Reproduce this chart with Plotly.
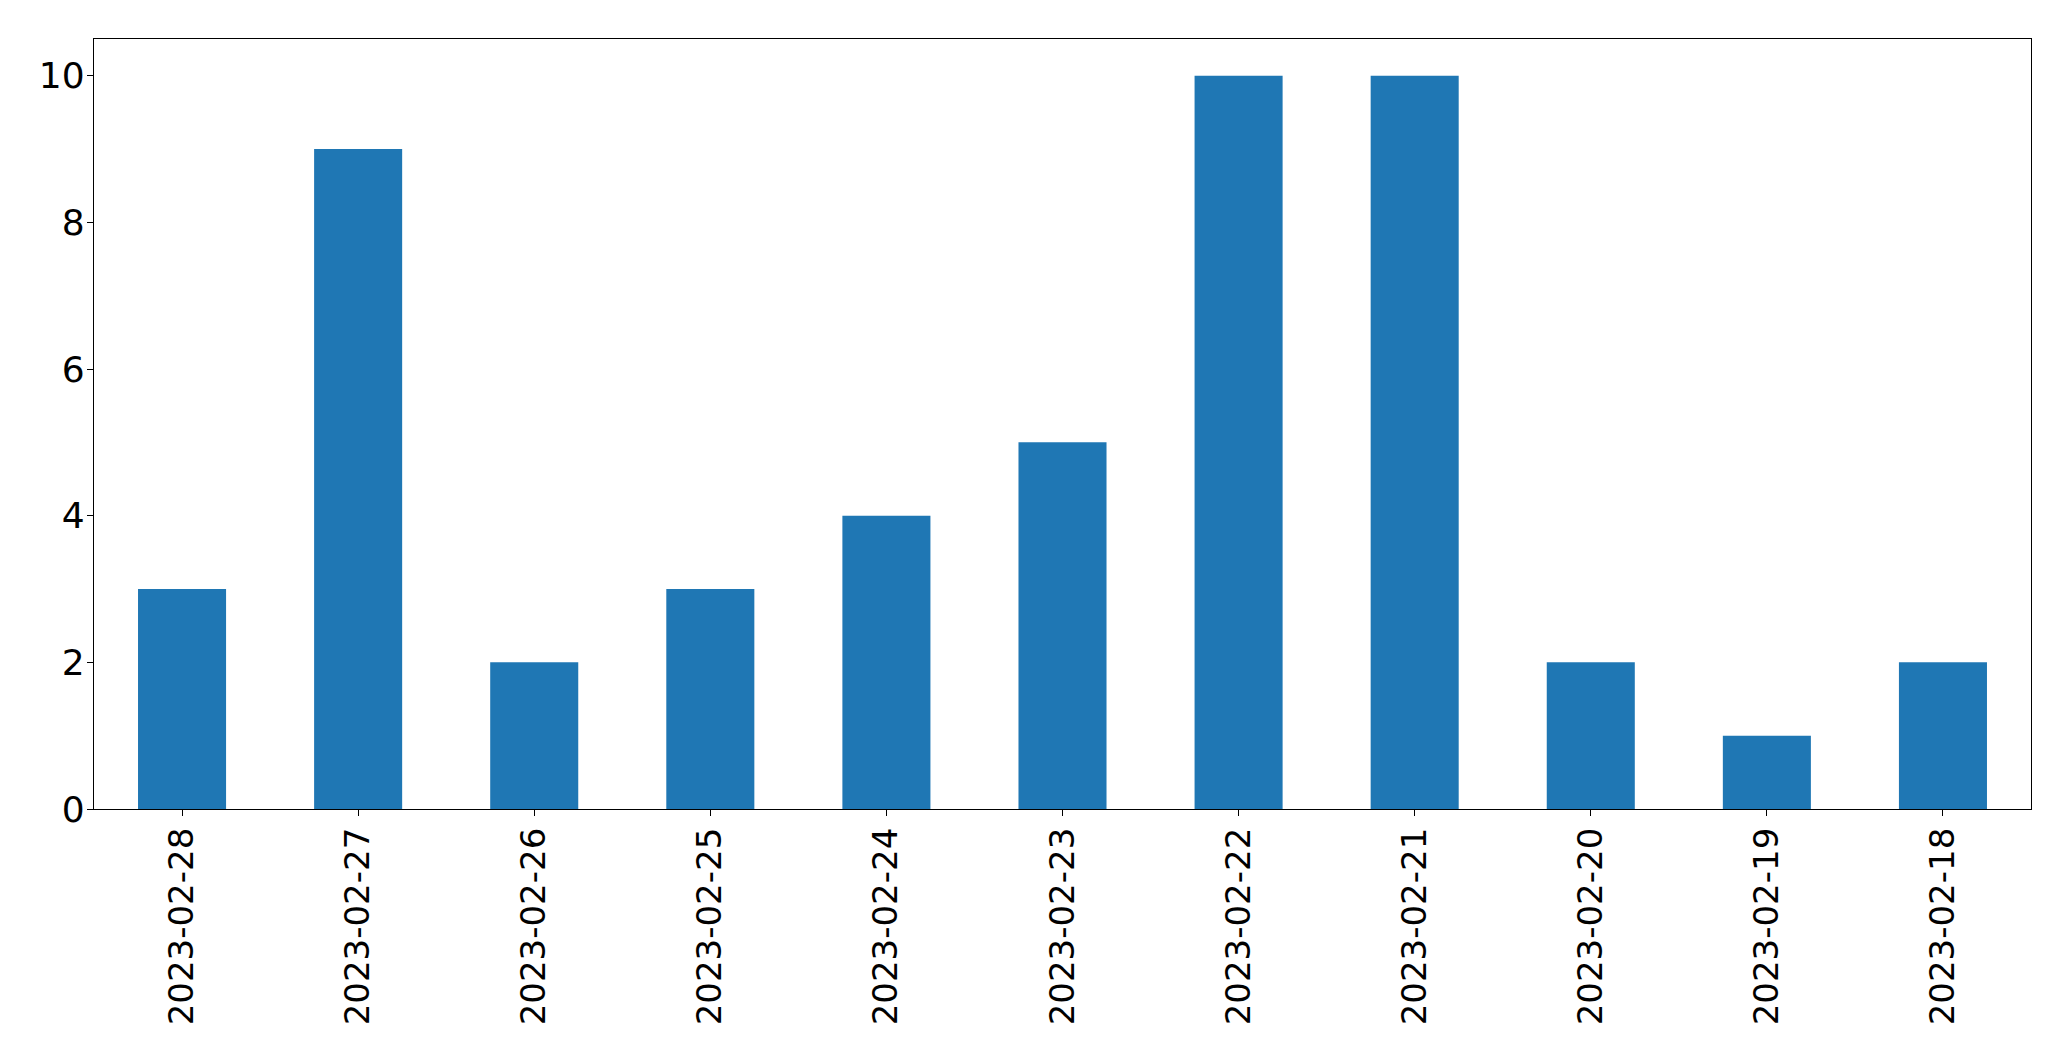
import plotly.graph_objects as go

dates = ["2023-02-28", "2023-02-27", "2023-02-26", "2023-02-25", "2023-02-24",
         "2023-02-23", "2023-02-22", "2023-02-21", "2023-02-20", "2023-02-19", "2023-02-18"]
counts = [3, 9, 2, 3, 4, 5, 10, 10, 2, 1, 2]
y_ticks = [0, 2, 4, 6, 8, 10]

fig = go.Figure(go.Bar(x=dates, y=counts, width=0.5, marker=dict(color="#1f77b4", line=dict(width=0))))

fig.update_layout(
    width=2063, height=1053,
    margin=dict(l=86, r=40, t=31, b=252, pad=0),
    paper_bgcolor="white", plot_bgcolor="white",
    font=dict(family="DejaVu Sans", size=34, color="black"),
    showlegend=False,
    bargap=0.5,
)
fig.update_xaxes(
    type="category", range=[-0.5, len(dates) - 0.5],
    tickangle=-90, ticks="outside", ticklen=6, tickwidth=1.3, tickcolor="black",
    showline=True, linecolor="black", linewidth=1.3, mirror=True,
    showgrid=False, zeroline=False, ticklabelstandoff=-2,
    tickfont=dict(size=34),
)
fig.update_yaxes(
    range=[0, 10.5], tickvals=y_ticks, ticktext=[str(v) for v in y_ticks],
    ticks="outside", ticklen=6, tickwidth=1.3, tickcolor="black",
    showline=True, linecolor="black", linewidth=1.3, mirror=True,
    showgrid=False, zeroline=False, ticklabelstandoff=-5,
    tickfont=dict(size=36),
)

fig.write_html("out.html")
